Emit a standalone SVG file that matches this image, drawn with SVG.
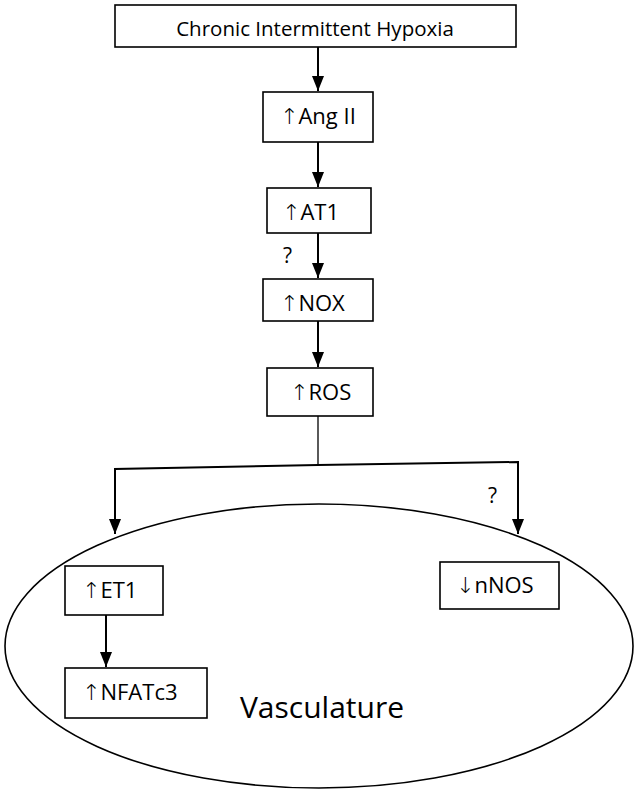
<svg xmlns="http://www.w3.org/2000/svg" width="637" height="793" viewBox="0 0 637 793">
<defs>
<marker id="ahd" markerUnits="userSpaceOnUse" markerWidth="16" markerHeight="12" viewBox="0 0 16 12" refX="15" refY="6" orient="auto">
<path d="M0,0 L15,6 L0,12 Z" fill="#000"/>
</marker>
<style>
.box{fill:#fff;stroke:#000;stroke-width:1.6}
.t{font-family:"Open Sans","DejaVu Sans",sans-serif;font-size:22px;fill:#000}
.a{font-family:"DejaVu Sans",sans-serif;font-weight:200;font-size:22px}
.h{font-size:20.5px}
.q{font-size:21px}
.v{font-size:30px}
.c{stroke:#000;stroke-width:2;fill:none}
</style>
</defs>
<rect width="637" height="793" fill="#fff"/>
<g id="vasculature">
<ellipse cx="319" cy="646" rx="314" ry="142" fill="none" stroke="#000" stroke-width="1.6"/>
<text class="t v" x="322" y="718" text-anchor="middle">Vasculature</text>
</g>
<g id="connectors">
<line class="c" x1="318" y1="47" x2="318" y2="91" marker-end="url(#ahd)"/>
<line class="c" x1="318" y1="142" x2="318" y2="187" marker-end="url(#ahd)"/>
<line class="c" x1="318" y1="233" x2="318" y2="278" marker-end="url(#ahd)"/>
<line class="c" x1="318" y1="321" x2="318" y2="367" marker-end="url(#ahd)"/>
<line x1="318" y1="416" x2="318" y2="465" stroke="#000" stroke-width="1.3"/>
<path class="c" d="M318,465 L115,469 L115,534" marker-end="url(#ahd)"/>
<path class="c" d="M318,465 L518,462 L518,534" marker-end="url(#ahd)"/>
<line class="c" x1="106" y1="615" x2="106" y2="667" marker-end="url(#ahd)"/>
<text class="t q" x="283" y="263">?</text>
<text class="t q" x="488" y="503">?</text>
</g>
<g id="cih">
<rect class="box" x="115" y="5" width="401" height="42"/>
<text class="t h" x="315" y="36" text-anchor="middle">Chronic Intermittent Hypoxia</text>
</g>
<g id="angII">
<rect class="box" x="263" y="92" width="110" height="50"/>
<text class="t" x="280" y="124"><tspan class="a">↑</tspan>Ang II</text>
</g>
<g id="at1">
<rect class="box" x="267" y="188" width="104" height="45"/>
<text class="t" x="282" y="220"><tspan class="a">↑</tspan>AT1</text>
</g>
<g id="nox">
<rect class="box" x="263" y="279" width="110" height="42"/>
<text class="t" x="280" y="311"><tspan class="a">↑</tspan>NOX</text>
</g>
<g id="ros">
<rect class="box" x="267" y="368" width="106" height="48"/>
<text class="t" x="290" y="400"><tspan class="a">↑</tspan>ROS</text>
</g>
<g id="et1">
<rect class="box" x="65" y="566" width="98" height="49"/>
<text class="t" x="82" y="598"><tspan class="a">↑</tspan>ET1</text>
</g>
<g id="nfatc3">
<rect class="box" x="65" y="668" width="142" height="50"/>
<text class="t" x="82" y="700"><tspan class="a">↑</tspan>NFATc3</text>
</g>
<g id="nnos">
<rect class="box" x="440" y="562" width="119" height="47"/>
<text class="t" x="456" y="593"><tspan class="a">↓</tspan>nNOS</text>
</g>
</svg>
